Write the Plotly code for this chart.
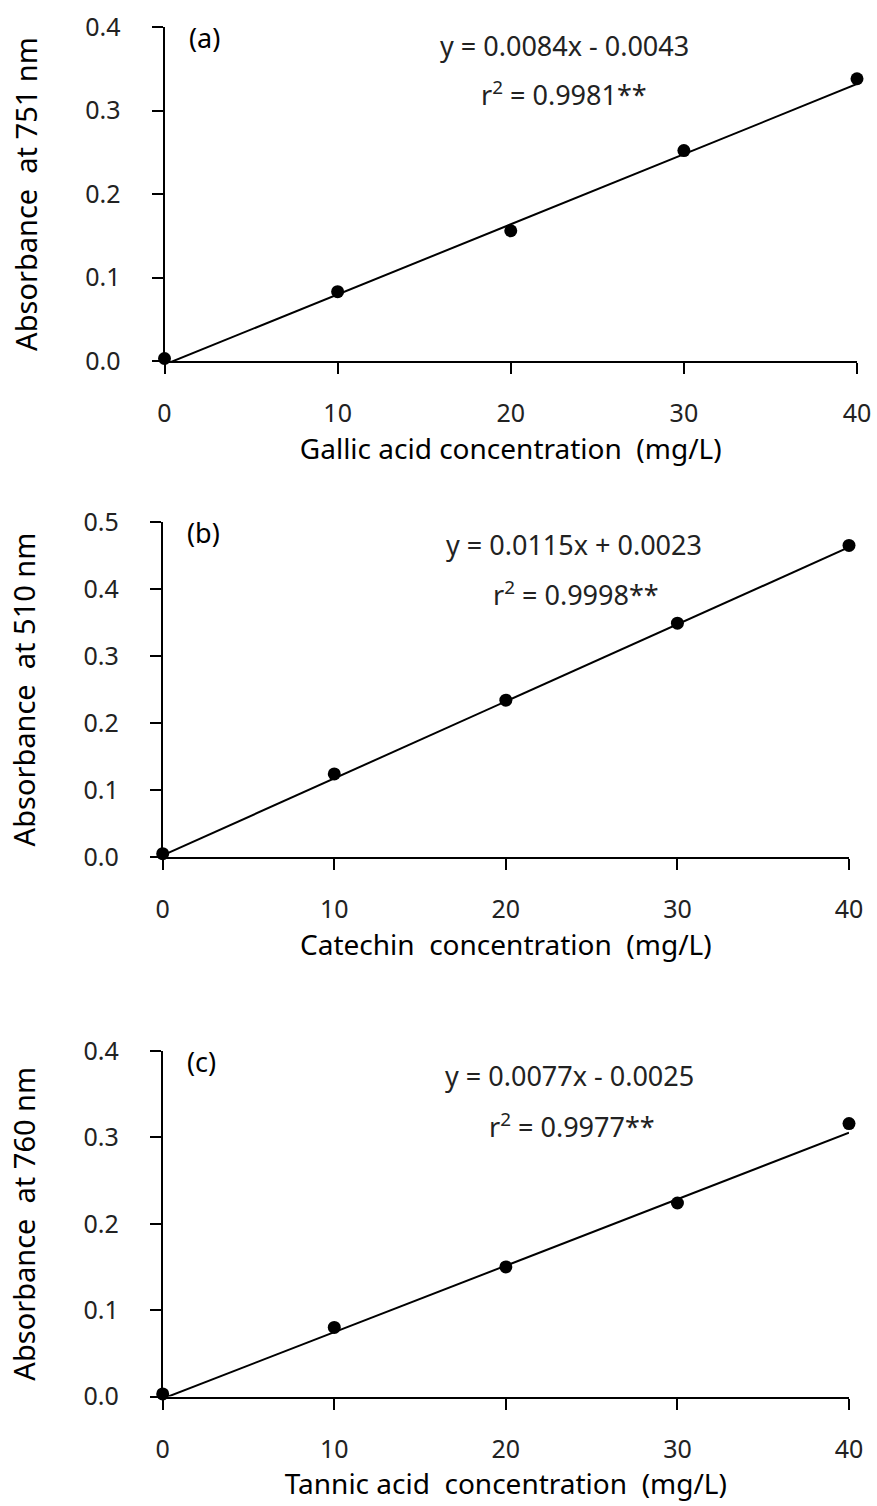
import plotly.graph_objects as go

# ---------------- data ----------------
conc = [0, 10, 20, 30, 40]

gallic_abs = [0.003, 0.083, 0.156, 0.252, 0.338]
catechin_abs = [0.005, 0.124, 0.234, 0.349, 0.465]
tannic_abs = [0.003, 0.080, 0.150, 0.224, 0.316]

slopes = [0.0084, 0.0115, 0.0077]
intercepts = [-0.0043, 0.0023, -0.0025]

eq_texts = ["y = 0.0084x - 0.0043", "y = 0.0115x + 0.0023", "y = 0.0077x - 0.0025"]
r2_texts = ["r<sup>2</sup> = 0.9981**", "r<sup>2</sup> = 0.9998**", "r<sup>2</sup> = 0.9977**"]
panel_labels = ["(a)", "(b)", "(c)"]

x_titles = ["Gallic acid concentration  (mg/L)", "Catechin  concentration  (mg/L)",
            "Tannic acid  concentration  (mg/L)"]
y_titles = ["Absorbance  at 751 nm", "Absorbance  at 510 nm", "Absorbance  at 760 nm"]

y_maxes = [0.4, 0.5, 0.4]
x_ticks = [0, 10, 20, 30, 40]

W, H = 877, 1506
FONT = "Noto Sans"

# plot-area pixel boxes (left, right, top, bottom)
boxes = [(164.5, 857, 27, 361), (162.7, 849, 522, 857), (162.7, 849, 1051, 1396.5)]

# annotation positions in data coords
eq_pos = [(23.1, 0.378), (24.0, 0.466), (23.7, 0.372)]
r2_pos = [(23.1, 0.320), (24.1, 0.393), (23.85, 0.314)]
lab_pos = [(1.3, 0.388), (1.3, 0.4836), (1.3, 0.388)]

series = [gallic_abs, catechin_abs, tannic_abs]

fig = go.Figure()
annotations = []

for i in range(3):
    xa = "x" if i == 0 else f"x{i+1}"
    ya = "y" if i == 0 else f"y{i+1}"
    l, r, t, b = boxes[i]
    xfit = [conc[0], conc[-1]]
    yfit = [slopes[i] * v + intercepts[i] for v in xfit]
    fig.add_trace(go.Scatter(x=xfit, y=yfit, mode="lines",
                             line=dict(color="black", width=2),
                             xaxis=xa, yaxis=ya, showlegend=False, hoverinfo="skip"))
    fig.add_trace(go.Scatter(x=conc, y=series[i], mode="markers",
                             marker=dict(color="black", size=13),
                             cliponaxis=False,
                             xaxis=xa, yaxis=ya, showlegend=False))

    xkey = "xaxis" if i == 0 else f"xaxis{i+1}"
    ykey = "yaxis" if i == 0 else f"yaxis{i+1}"
    ymax = y_maxes[i]
    yt = [round(k * 0.1, 1) for k in range(int(round(ymax * 10)) + 1)]
    fig.update_layout({
        xkey: dict(domain=[l / W, r / W], anchor=ya, range=[0, 40], automargin=False,
                   tickvals=x_ticks, ticktext=[str(v) for v in x_ticks],
                   showline=True, linecolor="black", linewidth=2,
                   ticks="outside", ticklen=11, tickwidth=2, tickcolor="black",
                   showgrid=False, zeroline=False,
                   ticklabelstandoff=18,
                   tickfont=dict(family=FONT, size=25, color="#222"),
                   title=dict(text=x_titles[i], standoff=3,
                              font=dict(family=FONT, size=28, color="black"))),
        ykey: dict(domain=[1 - b / H, 1 - t / H], anchor=xa, range=[0, ymax], automargin=False,
                   tickvals=yt, ticktext=[f"{v:.1f}" for v in yt],
                   showline=True, linecolor="black", linewidth=2,
                   ticks="outside", ticklen=11, tickwidth=2, tickcolor="black",
                   showgrid=False, zeroline=False,
                   ticklabelstandoff=26,
                   tickfont=dict(family=FONT, size=25, color="#222"),
                   title=dict(text=y_titles[i], standoff=39,
                              font=dict(family=FONT, size=29, color="black"))),
    })
    annotations.append(dict(text=panel_labels[i], xref=xa, yref=ya,
                            x=lab_pos[i][0], y=lab_pos[i][1], xanchor="left", yanchor="middle",
                            showarrow=False, font=dict(family=FONT, size=27, color="black")))
    annotations.append(dict(text=eq_texts[i], xref=xa, yref=ya,
                            x=eq_pos[i][0], y=eq_pos[i][1], xanchor="center", yanchor="middle",
                            showarrow=False, font=dict(family=FONT, size=27, color="#222")))
    annotations.append(dict(text=r2_texts[i], xref=xa, yref=ya,
                            x=r2_pos[i][0], y=r2_pos[i][1], xanchor="center", yanchor="middle",
                            showarrow=False, font=dict(family=FONT, size=27, color="#222")))

fig.update_layout(width=W, height=H, margin=dict(l=0, r=0, t=0, b=0),
                  paper_bgcolor="white", plot_bgcolor="white",
                  annotations=annotations, showlegend=False)

fig.write_html("out.html")
